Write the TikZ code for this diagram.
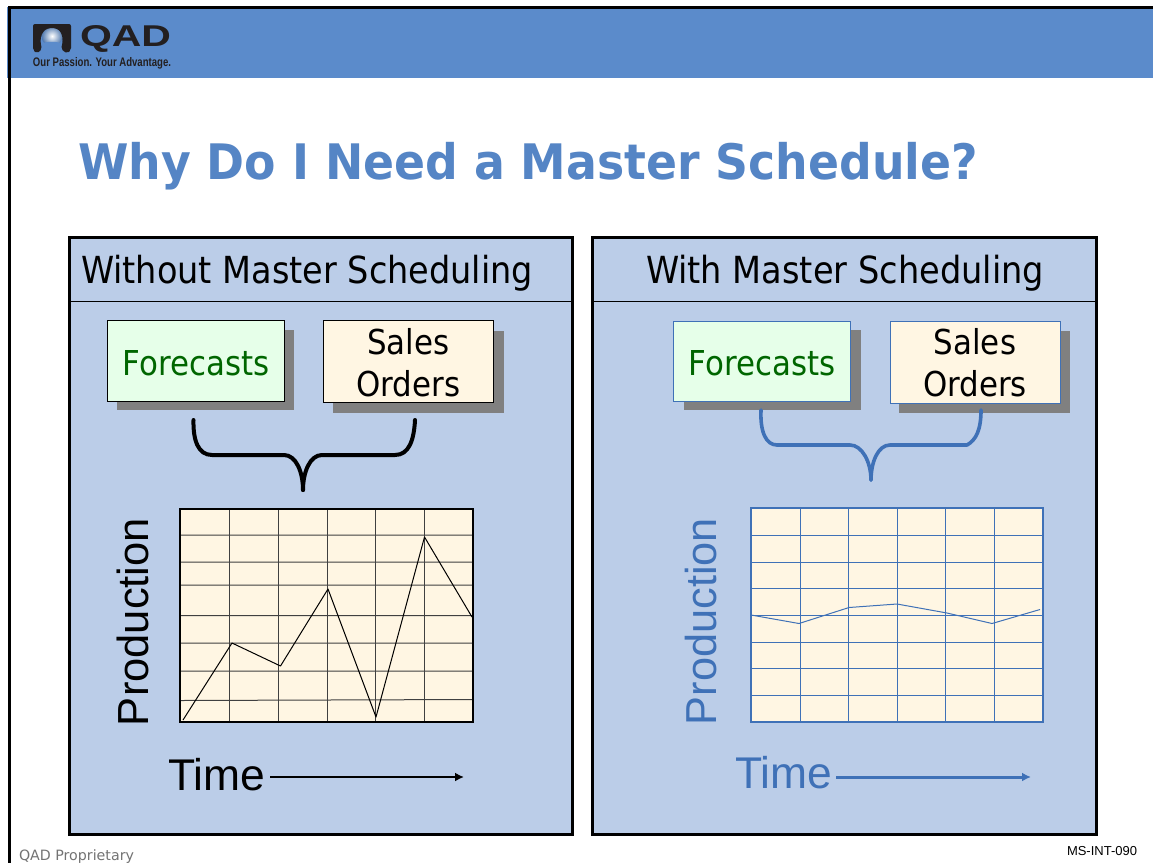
\documentclass[tikz,border=0pt]{standalone}
\usepackage{fontspec}
\usepackage{graphicx}
\setmainfont{Liberation Sans}
\newfontfamily\tah{DejaVu Sans Condensed}
\newfontfamily\verd{DejaVu Sans}
\newfontfamily\arial{Liberation Sans}
\newcommand\fitw[2]{\resizebox{#1pt}{!}{#2}}
\newcommand\dnshift[2]{\raisebox{-#1pt}[\height][\depth]{#2}}
\newcommand\twolines[3]{\raisebox{-#1pt}[20pt][20pt]{\begin{tabular}{@{}c@{}}#2\\#3\end{tabular}}}
\definecolor{hdr}{HTML}{5B8BCB}
\definecolor{panel}{HTML}{BBCDE8}
\definecolor{ttl}{HTML}{5585C5}
\definecolor{cream}{HTML}{FFF6E3}
\definecolor{mint}{HTML}{E6FFE9}
\definecolor{fgreen}{HTML}{006600}
\definecolor{bl}{HTML}{3F71B7}
\definecolor{dk}{HTML}{231F20}
\tikzset{
  panelbox/.style={draw=black,line width=3pt,fill=panel,minimum height=597pt,anchor=north west,inner sep=0pt,outer sep=0pt},
  cardbox/.style={anchor=north west,inner sep=0pt,outer sep=0pt,line width=1pt,font=\tah\fontsize{34.3}{42}\selectfont,align=center},
  shadowbox/.style={anchor=north west,fill=black!50,inner sep=0pt,outer sep=0pt},
  lab/.style={inner sep=0pt,outer sep=0pt},
  brace/.style={line width=4pt,line cap=round,line join=round},
  flow/.style={line width=2pt,-{Latex[length=9pt,width=9pt]}},
}
\usetikzlibrary{arrows.meta}
\begin{document}
\begin{tikzpicture}[x=1pt,y=-1pt]
\useasboundingbox (0,0) rectangle (1153,863);
\fill[white] (0,0) rectangle (1153,863);
% header
\fill[hdr] (7,7) rectangle (1153,78);
\fill[black] (8,6) rectangle (1153,9);
\fill[black] (8,6) rectangle (11,863);
% logo
\shade[inner color=white,outer color=hdr!85!black] (52,36) circle (10.5);
\fill[hdr] (41,49) -- (41,44) .. controls (46,41) and (58,41) .. (62,44) -- (62,49) -- cycle;
\fill[dk,rounded corners=2pt] (33,24) -- (71,24) -- (71,50) -- (67,53.5) -- (61,49) .. controls (64,38) and (62,29) .. (52,28) .. controls (42,29) and (39,38) .. (42,49) -- (37,53.5) -- (33,50) -- cycle;
\node[lab,anchor=west,text=dk] (qad) at (80,39) {\resizebox{91pt}{21pt}{\arial\bfseries QAD}};
\node[lab,anchor=west,text=dk] (tag) at (33,63.5) {\resizebox{138pt}{9pt}{\arial\bfseries Our Passion. Your Advantage.}};
% title
\node[lab,anchor=base west,text=ttl] (title) at (78,179.5) {\scalebox{1}[1.07]{\fitw{900}{\verd\bfseries Why Do I Need a Master Schedule?}}};
% panels
\node[panelbox,minimum width=503.5pt] (p1) at (69,237) {};
\node[panelbox,minimum width=504.5pt] (p2) at (592,237) {};
\draw[black,line width=.8pt] (p1.west |- 0,301) -- (p1.east |- 0,301);
\draw[black,line width=.8pt] (p2.west |- 0,301) -- (p2.east |- 0,301);
\node[lab,anchor=base west] (h1) at (81,283) {\fitw{452}{\tah Without Master Scheduling}};
\node[lab,anchor=base west] (h2) at (646,283) {\fitw{398}{\tah With Master Scheduling}};
% left cards
\node[shadowbox,minimum width=177pt,minimum height=80pt] (s1) at (117,330) {};
\node[shadowbox,minimum width=171pt,minimum height=82pt] (s2) at (333,331) {};
\node[cardbox,draw=black,fill=mint,text=fgreen,minimum width=177pt,minimum height=81pt] (f1) at (107.5,320.5) {\dnshift{2}{Forecasts}};
\node[cardbox,draw=black,fill=cream,minimum width=170.5pt,minimum height=82pt] (o1) at (323,320.5) {\twolines{12}{Sales}{Orders}};
% right cards
\node[shadowbox,minimum width=177pt,minimum height=80pt] (s3) at (684,330) {};
\node[shadowbox,minimum width=171pt,minimum height=82pt] (s4) at (899,331) {};
\node[cardbox,draw=bl,fill=mint,text=fgreen,minimum width=177pt,minimum height=80pt] (f2) at (673.5,321.5) {\dnshift{2}{Forecasts}};
\node[cardbox,draw=bl,fill=cream,minimum width=170pt,minimum height=82pt] (o2) at (890,321.5) {\twolines{11}{Sales}{Orders}};
% braces
\coordinate (b1a) at (193.5,420); \coordinate (b1b) at (415,420); \coordinate (b1c) at (303,490);
\coordinate (b2a) at (761,410); \coordinate (b2b) at (981,410); \coordinate (b2c) at (871,480);
\draw[brace,black] (b1a) .. controls (193,440) and (198,455) .. (212,455) -- (284,455) .. controls (296,455) and (303,472) .. (b1c);
\draw[brace,black] (b1c) .. controls (303,472) and (310,455) .. (322,455) -- (395,455) .. controls (409,455) and (414,440) .. (b1b);
\draw[brace,bl,line width=3.6pt] (b2a) .. controls (760,432) and (766,445) .. (777,445) -- (850,445) .. controls (862,445) and (871,462) .. (b2c);
\draw[brace,bl,line width=3.6pt] (b2c) .. controls (871,462) and (878,445) .. (890,445) -- (967,445) .. controls (976,440) and (981,430) .. (b2b);
% left chart
\fill[cream] (180,509) rectangle (473,722);
\draw[black!75,line width=1pt] (229,509)--(229,722) (278,509)--(278,722) (327.5,509)--(327.5,722) (375.5,509)--(375.5,722) (424,509)--(424,722);
\draw[black!75,line width=1pt] (180,535)--(473,535) (180,562)--(473,562) (180,585)--(473,585) (180,615.5)--(473,615.5) (180,643)--(473,643) (180,671)--(473,671) (180,700.5)--(473,699.5);
\draw[black,line width=1.2pt] (180,509) rectangle (473,722);
\draw[black,line width=1pt,line join=round] (183,720)--(232,643)--(280.5,666)--(328,589)--(376,717)--(424.5,537)--(472,617);
% right chart
\fill[cream] (751,508) rectangle (1043,722);
\draw[bl,line width=.8pt] (800,508)--(800,722) (848,508)--(848,722) (897,508)--(897,722) (945.5,508)--(945.5,722) (994.5,508)--(994.5,722);
\draw[bl,line width=.8pt] (751,535)--(1043,535) (751,562)--(1043,562) (751,588)--(1043,588) (751,615)--(1043,615) (751,642)--(1043,642) (751,668)--(1043,668) (751,695)--(1043,695);
\draw[bl,line width=1.1pt] (751,508) rectangle (1043,722);
\draw[bl,line width=1pt,line join=round] (751,615)--(799,623.5)--(849,607.5)--(897,604)--(947,613)--(992,623.5)--(1040,609.5);
% axis labels
\node[lab,anchor=base west,rotate=90] (y1) at (148,726) {\fitw{208}{\arial Production}};
\node[lab,anchor=base west,rotate=90,text=bl] (y2) at (716,725) {\fitw{207}{\arial Production}};
\node[lab,anchor=base west] (t1) at (168,790) {\fitw{97}{\arial Time}};
\node[lab,anchor=base west,text=bl] (t2) at (735,788) {\fitw{97}{\arial Time}};
\coordinate (a1) at (464,777); \coordinate (a2) at (1031,777);
\draw[flow,black] (t1.east |- a1) ++(5,0) -- (a1);
\draw[flow,bl,line width=3pt] (t2.east |- a2) ++(4,0) -- (a2);
% footer
\node[lab,anchor=base west,text=black!55] (fl) at (19,860) {\fitw{115}{\verd QAD Proprietary}};
\node[lab,anchor=base east] (fr) at (1137,855) {\fitw{70}{\arial MS-INT-090}};
\end{tikzpicture}
\end{document}
